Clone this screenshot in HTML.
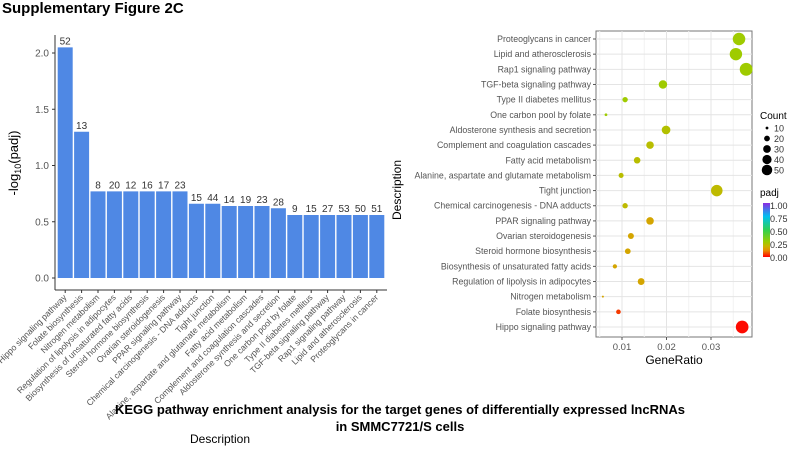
<!DOCTYPE html>
<html><head><meta charset="utf-8">
<style>
body{margin:0;background:#fff;width:793px;height:448px;overflow:hidden;font-family:"Liberation Sans",Arial,sans-serif}
svg text{font-family:"Liberation Sans",Arial,sans-serif}
</style></head>
<body>
<svg id="fig" width="793" height="448" viewBox="0 0 793 448" xmlns="http://www.w3.org/2000/svg">
<defs>
<linearGradient id="cbar" x1="0" y1="1" x2="0" y2="0">
<stop offset="0" stop-color="#ff0000"/><stop offset="0.12" stop-color="#e88c00"/><stop offset="0.2" stop-color="#c8b400"/><stop offset="0.28" stop-color="#9ccc00"/><stop offset="0.5" stop-color="#30d050"/><stop offset="0.75" stop-color="#00c0f0"/><stop offset="1" stop-color="#8a2be2"/>
</linearGradient>
</defs>
<text x="2" y="13" font-size="15" font-weight="bold" fill="#000">Supplementary Figure 2C</text>
<g id="bar"></g>
<g id="dot"></g>
<text x="400" y="414" font-size="13" font-weight="bold" text-anchor="middle">KEGG pathway enrichment analysis for the target genes of differentially expressed lncRNAs</text>
<text x="400" y="431" font-size="13" font-weight="bold" text-anchor="middle">in SMMC7721/S cells</text>
</svg>
<script>
const pathways=["Hippo signaling pathway","Folate biosynthesis","Nitrogen metabolism","Regulation of lipolysis in adipocytes","Biosynthesis of unsaturated fatty acids","Steroid hormone biosynthesis","Ovarian steroidogenesis","PPAR signaling pathway","Chemical carcinogenesis - DNA adducts","Tight junction","Alanine, aspartate and glutamate metabolism","Fatty acid metabolism","Complement and coagulation cascades","Aldosterone synthesis and secretion","One carbon pool by folate","Type II diabetes mellitus","TGF-beta signaling pathway","Rap1 signaling pathway","Lipid and atherosclerosis","Proteoglycans in cancer"];
const negLogPadj=[2.05,1.30,0.77,0.77,0.77,0.77,0.77,0.77,0.66,0.66,0.64,0.64,0.64,0.62,0.56,0.56,0.56,0.56,0.56,0.56];
const counts=[52,13,8,20,12,16,17,23,15,44,14,19,23,28,9,15,27,53,50,51];
const geneRatio=[0.0370,0.0092,0.0057,0.0143,0.0084,0.0113,0.0120,0.0163,0.0107,0.0313,0.0098,0.0134,0.0163,0.0199,0.0064,0.0107,0.0192,0.0379,0.0356,0.0363];
const yTicks=[0,0.5,1.0,1.5,2.0];
const xTicks=[0.01,0.02,0.03];
const sizeLegend=[10,20,30,40,50];
const cbarLabels=[1.00,0.75,0.50,0.25,0.00];

const NS="http://www.w3.org/2000/svg";
function mk(p,tag,a,txt){const e=document.createElementNS(NS,tag);for(const k in a)e.setAttribute(k,a[k]);if(txt!=null)e.textContent=txt;p.appendChild(e);return e;}

// Bar chart
const bar=document.getElementById('bar');
const bx0=57,bx1=385,by0=278,by2=53;
const by=v=>by0-(v/2.0)*(by0-by2);
const step=(bx1-bx0)/pathways.length;
const bxc=i=>bx0+step*(i+0.5);
let ax=mk(bar,'line',{x1:55,y1:35,x2:55,y2:290,stroke:'#333','stroke-width':1});

ax=mk(bar,'line',{x1:55,y1:290,x2:387,y2:290,stroke:'#333','stroke-width':1});

yTicks.forEach(t=>{
  mk(bar,'line',{x1:52,x2:55,y1:by(t),y2:by(t),stroke:'#333'});
  const e=mk(bar,'text',{x:49,y:by(t)+3.5,'font-size':10,fill:'#555','text-anchor':'end'},t.toFixed(1));
  
});
pathways.forEach((p,i)=>{
  const v=negLogPadj[i];
  const r=mk(bar,'rect',{x:bxc(i)-step/2+0.7,y:by(v),width:step-1.4,height:by0-by(v),fill:'#4f88e4'});
  
  const l=mk(bar,'text',{x:bxc(i),y:by(v)-3,'font-size':10,fill:'#333','text-anchor':'middle'},String(counts[i]));
  
  mk(bar,'line',{x1:bxc(i),x2:bxc(i),y1:290,y2:293,stroke:'#333'});
  const t=mk(bar,'text',{x:0,y:0,'font-size':8.6,fill:'#555','text-anchor':'end',transform:`translate(${bxc(i)+2},${298}) rotate(-45)`},p);
  
});
let yt=mk(bar,'text',{x:0,y:0,'font-size':13,fill:'#000','text-anchor':'middle',transform:'translate(18,163) rotate(-90)'});
yt.innerHTML='-log<tspan font-size="9" dy="3">10</tspan><tspan dy="-3">(padj)</tspan>';

let xt=mk(bar,'text',{x:220,y:443,'font-size':12,fill:'#000','text-anchor':'middle'},'Description');


// Dot chart
const dot=document.getElementById('dot');
const px0=596,px1=752,py0=31,py1=337;
const gx=v=>577.5+v*4450;
const rowStep=(327-39)/19;
const rowY=i=>327-i*rowStep; // index 0 = Hippo at bottom
let pan=mk(dot,'rect',{x:px0,y:py0,width:px1-px0,height:py1-py0,fill:'#fff',stroke:'#777','stroke-width':1});

[0.005,0.015,0.025,0.035].forEach(t=>mk(dot,'line',{x1:gx(t),x2:gx(t),y1:py0,y2:py1,stroke:'#f2f2f2'}));
xTicks.forEach(t=>{
  mk(dot,'line',{x1:gx(t),x2:gx(t),y1:py0,y2:py1,stroke:'#e4e4e4'});
  mk(dot,'line',{x1:gx(t),x2:gx(t),y1:py1,y2:py1+3,stroke:'#555'});
  const e=mk(dot,'text',{x:gx(t),y:py1+13,'font-size':9.5,fill:'#555','text-anchor':'middle'},t.toFixed(2));
  
});
pathways.forEach((p,i)=>mk(dot,'line',{x1:px0,x2:px1,y1:rowY(i),y2:rowY(i),stroke:'#e4e4e4'}));
function colorOf(padj){
  const stops=[[0,[255,0,0]],[0.12,[232,140,0]],[0.2,[200,180,0]],[0.28,[156,204,0]],[0.5,[48,208,80]],[0.75,[0,192,240]],[1,[138,43,226]]];
  for(let k=1;k<stops.length;k++){if(padj<=stops[k][0]){const[a,ca]=stops[k-1],[b,cb]=stops[k];const f=(padj-a)/(b-a);return 'rgb('+ca.map((c,j)=>Math.round(c+(cb[j]-c)*f)).join(',')+')';}}
  return 'rgb(138,43,226)';
}
const rOf=c=>Math.sqrt(1+(c-8)/45*40);
pathways.forEach((p,i)=>{
  mk(dot,'line',{x1:px0-3,x2:px0,y1:rowY(i),y2:rowY(i),stroke:'#555'});
  const l=mk(dot,'text',{x:px0-5,y:rowY(i)+3,'font-size':8.8,fill:'#555','text-anchor':'end'},p);
  
  const c=mk(dot,'circle',{cx:gx(geneRatio[i]),cy:rowY(i),r:rOf(counts[i]),fill:colorOf(Math.pow(10,-negLogPadj[i]))});
  
});
xt=mk(dot,'text',{x:674,y:364,'font-size':12,fill:'#000','text-anchor':'middle'},'GeneRatio');

const ybg=mk(dot,'rect',{x:389,y:140,width:16,height:100,fill:'#fff'});
yt=mk(dot,'text',{x:0,y:0,'font-size':12,fill:'#000','text-anchor':'middle',transform:'translate(401,190) rotate(-90)'},'Description');

// legends
let lt=mk(dot,'text',{x:760,y:119,'font-size':10,fill:'#000'},'Count');

sizeLegend.forEach((s,k)=>{
  const y=128+k*10.5;
  const c=mk(dot,'circle',{cx:767,cy:y,r:rOf(s)*0.85,fill:'#000'});
  
  const t=mk(dot,'text',{x:774,y:y+3.5,'font-size':9,fill:'#333'},String(s));
  
});
lt=mk(dot,'text',{x:760,y:196,'font-size':10,fill:'#000'},'padj');

const cb=mk(dot,'rect',{x:763,y:203,width:7,height:54,fill:'url(#cbar)'});

cbarLabels.forEach((v,k)=>{
  const t=mk(dot,'text',{x:770,y:206+k*13+3,'font-size':9,fill:'#333'},v.toFixed(2));
  
});
</script>
</body></html>
